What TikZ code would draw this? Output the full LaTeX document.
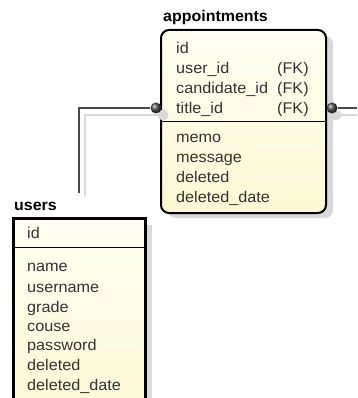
\documentclass[tikz,border=0pt]{standalone}
\usepackage{fontspec}
\setmainfont{Liberation Sans}
\newfontfamily\fieldfont[FakeStretch=1.045]{Liberation Sans}
\newfontfamily\titlefont[FakeStretch=1.03]{Liberation Sans}
\definecolor{entfillA}{HTML}{FFFFF2}
\definecolor{entfillB}{HTML}{FCF8D4}
\definecolor{shade}{HTML}{D9D9D9}
\definecolor{fieldtext}{HTML}{333333}
\definecolor{linkgray}{HTML}{4A4A4A}
\tikzset{
  field/.style={anchor=base west, inner sep=0pt, font=\fieldfont\fontsize{15.5}{15.5}\selectfont, text=fieldtext},
  tabletitle/.style={anchor=base west, inner sep=0pt, font=\titlefont\fontsize{15.5}{15.5}\selectfont\bfseries},
  entityfill/.style={top color=entfillA, bottom color=entfillB},
  shadowbox/.style={fill=shade, draw=none},
  link/.style={draw=linkgray, line width=1.7pt},
  linkshadow/.style={draw=shade, line width=1.7pt},
  endball/.style={circle, inner sep=0pt, minimum size=11pt, ball color=gray!60!black, draw=none},
  endballshadow/.style={circle, inner sep=0pt, minimum size=11pt, fill=shade, draw=none}
}
\begin{document}
\begin{tikzpicture}[x=1pt, y=-1pt]
  \useasboundingbox (0,0) rectangle (357,398);
  \clip (0,0) rectangle (357,398);
  \fill[white] (0,0) rectangle (357,398);

  % relationship shadows
  \coordinate (lsA) at (163,115);
  \coordinate (lsB) at (85,115);
  \coordinate (lsC) at (85,196);
  \coordinate (rsA) at (336,115);
  \coordinate (rsB) at (357,115);
  \draw[linkshadow] (lsA) -- (lsB) -- (lsC);
  \draw[linkshadow] (rsA) -- (rsB);

  % appointments table
  \fill[shadowbox, rounded corners=8pt] (168,36) rectangle (333,218);
  \node[tabletitle] (apptTitle) at (163,22) {appointments};
  \path[entityfill, draw=black, line width=2pt, rounded corners=8pt]
    (161,30) rectangle (326,213);
  \draw[black, line width=1pt] (161,122) -- (326,122);
  \node[field] (aId)   at (176,53.5)  {id};
  \node[field] (aUser) at (176,73.5)  {user\_id};
  \node[field] (aCand) at (176,93.5)  {candidate\_id};
  \node[field] (aTitle) at (176,113.5) {title\_id};
  \node[field] (fk1) at (277,73.5)  {(FK)};
  \node[field] (fk2) at (277,93.5)  {(FK)};
  \node[field] (fk3) at (277,113.5) {(FK)};
  \node[field] (aMemo) at (176,142.5) {memo};
  \node[field] (aMsg)  at (176,162.5) {message};
  \node[field] (aDel)  at (176,182.5) {deleted};
  \node[field] (aDelD) at (176,202.5) {deleted\_date};

  % users table
  \fill[shadowbox] (145,225) rectangle (152,410);
  \node[tabletitle] (usersTitle) at (14,210) {users};
  \path[entityfill, draw=black, line width=3pt] (13,218) rectangle (145,420);
  \draw[black, line width=1pt] (13,247) -- (145,247);
  \node[field] (uId)    at (27,238.5) {id};
  \node[field] (uName)  at (27,271.5) {name};
  \node[field] (uUser)  at (27,292)   {username};
  \node[field] (uGrade) at (27,312)   {grade};
  \node[field] (uCouse) at (27,331.5) {couse};
  \node[field] (uPass)  at (27,350.5) {password};
  \node[field] (uDel)   at (27,370.5) {deleted};
  \node[field] (uDelD)  at (27,390)   {deleted\_date};

  % relationships
  \node[endballshadow] (ldotS) at (lsA) {};
  \node[endballshadow] (rdotS) at (rsA) {};
  \coordinate (bend) at (79,108);
  \coordinate (usersEnd) at (79,193);
  \coordinate (rightEnd) at (357,108);
  \node[endball] (ldot) at (156,108) {};
  \node[endball] (rdot) at (332,108) {};
  \draw[link] (ldot.west) -- (bend) -- (usersEnd);
  \draw[link] (rdot.east) -- (rightEnd);
\end{tikzpicture}
\end{document}
